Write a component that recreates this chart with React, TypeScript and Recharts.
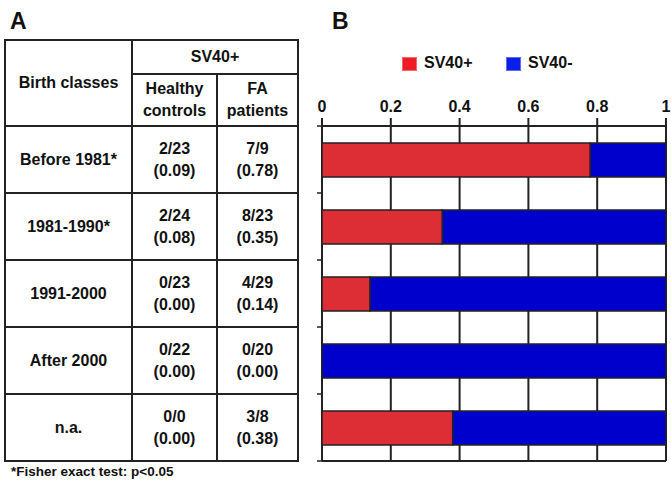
import React from 'react';
import { BarChart, Bar, XAxis, YAxis, CartesianGrid } from 'recharts';

const birthClasses = ['Before 1981*', '1981-1990*', '1991-2000', 'After 2000', 'n.a.'];
const healthyCounts = ['2/23', '2/24', '0/23', '0/22', '0/0'];
const healthyRatios = ['(0.09)', '(0.08)', '(0.00)', '(0.00)', '(0.00)'];
const faCounts = ['7/9', '8/23', '4/29', '0/20', '3/8'];
const faRatios = ['(0.78)', '(0.35)', '(0.14)', '(0.00)', '(0.38)'];
const sv40Pos = [0.78, 0.35, 0.14, 0, 0.38];
const sv40Neg = [0.22, 0.65, 0.86, 1, 0.62];
const xTicks = [0, 0.2, 0.4, 0.6, 0.8, 1];

const data = birthClasses.map((name, i) => ({ name, pos: sv40Pos[i], neg: sv40Neg[i] }));

const FONT = '"Liberation Sans", Arial, sans-serif';
const LINE = '#222';

const cell = (x: number, y: number, w: number, h: number, content: React.ReactNode, key: string) => (
  <div
    key={key}
    style={{
      position: 'absolute',
      left: x - 1,
      top: y - 1,
      width: w + 2,
      height: h + 2,
      boxSizing: 'border-box',
      border: `2px solid ${LINE}`,
      display: 'flex',
      alignItems: 'center',
      justifyContent: 'center',
      textAlign: 'center',
      lineHeight: '22px',
    }}
  >
    <div>{content}</div>
  </div>
);

const Table = () => {
  const c0 = 5, c1 = 132, c2 = 217, c3 = 298;
  const top = 40, mid = 74, head = 126, rowH = 67;
  const cells = [
    cell(c0, top, c1 - c0, head - top, 'Birth classes', 'bc'),
    cell(c1, top, c3 - c1, mid - top, 'SV40+', 'sv'),
    cell(c1, mid, c2 - c1, head - mid, <>Healthy<br />controls</>, 'hc'),
    cell(c2, mid, c3 - c2, head - mid, <>FA<br />patients</>, 'fa'),
  ];
  birthClasses.forEach((b, i) => {
    const y = head + i * rowH;
    cells.push(cell(c0, y, c1 - c0, rowH, b, 'r' + i));
    cells.push(cell(c1, y, c2 - c1, rowH, <>{healthyCounts[i]}<br />{healthyRatios[i]}</>, 'h' + i));
    cells.push(cell(c2, y, c3 - c2, rowH, <>{faCounts[i]}<br />{faRatios[i]}</>, 'f' + i));
  });
  return <>{cells}</>;
};

// draws small ticks at the band edges instead of band centres
const BoundaryTick = (props: any) => {
  const { x, y, index, payload, visibleTicksCount } = props;
  const half = payload && payload.offset ? payload.offset : 33.5;
  const last = index === (visibleTicksCount ?? birthClasses.length) - 1;
  return (
    <g>
      <line x1={x - 5} x2={x} y1={y - half} y2={y - half} stroke={LINE} strokeWidth={1.5} />
      {last && <line x1={x - 5} x2={x} y1={y + half} y2={y + half} stroke={LINE} strokeWidth={1.5} />}
    </g>
  );
};

export default function App() {
  return (
    <div
      style={{
        position: 'absolute',
        left: 0,
        top: 0,
        width: 671,
        height: 485,
        background: '#fff',
        fontFamily: FONT,
        fontWeight: 'bold',
        fontSize: 16,
        color: '#111',
        overflow: 'hidden',
      }}
    >
      <div style={{ position: 'absolute', left: 10, top: 8, fontSize: 23 }}>A</div>
      <div style={{ position: 'absolute', left: 332, top: 8, fontSize: 23 }}>B</div>
      <Table />
      <div style={{ position: 'absolute', left: 11, top: 464, fontSize: 13.5 }}>*Fisher exact test: p&lt;0.05</div>

      <div style={{ position: 'absolute', left: 402, top: 57, width: 15, height: 14, background: '#ee1c25', boxSizing: 'border-box', border: '1px solid #f06a70' }} />
      <div style={{ position: 'absolute', left: 424, top: 54, fontSize: 16 }}>SV40+</div>
      <div style={{ position: 'absolute', left: 506, top: 57, width: 15, height: 14, background: '#0a1ee6', boxSizing: 'border-box', border: '1px solid #5a6af0' }} />
      <div style={{ position: 'absolute', left: 528, top: 54, fontSize: 16 }}>SV40-</div>

      <div style={{ position: 'absolute', left: 310, top: 0 }}>
        <BarChart
          width={361}
          height={485}
          data={data}
          layout="vertical"
          margin={{ top: 96, right: 5, bottom: 22, left: 4 }}
          style={{ overflow: 'visible' }}
        >
          <CartesianGrid horizontal={false} stroke={LINE} strokeWidth={2} />
          <XAxis
            type="number"
            orientation="top"
            domain={[0, 1]}
            ticks={xTicks}
            height={30}
            tickSize={8}
            tickMargin={6}
            stroke={LINE}
            strokeWidth={2}
            tick={{ fill: '#111', fontSize: 16, fontWeight: 'bold', fontFamily: FONT }}
          />
          <XAxis
            xAxisId="b"
            type="number"
            orientation="bottom"
            domain={[0, 1]}
            height={2}
            tick={false}
            tickLine={false}
            stroke={LINE}
            strokeWidth={2}
          />
          <YAxis
            type="category"
            dataKey="name"
            width={8}
            tickSize={0}
            tickMargin={0}
            tickLine={false}
            axisLine={false}
            interval={0}
            tick={<BoundaryTick />}
          />
          <Bar dataKey="pos" stackId="s" fill="#dd2e35" stroke={LINE} strokeWidth={1.5} barSize={34} isAnimationActive={false} />
          <Bar dataKey="neg" stackId="s" fill="#0000cc" stroke={LINE} strokeWidth={1.5} barSize={34} isAnimationActive={false} />
        </BarChart>
      </div>
    </div>
  );
}
